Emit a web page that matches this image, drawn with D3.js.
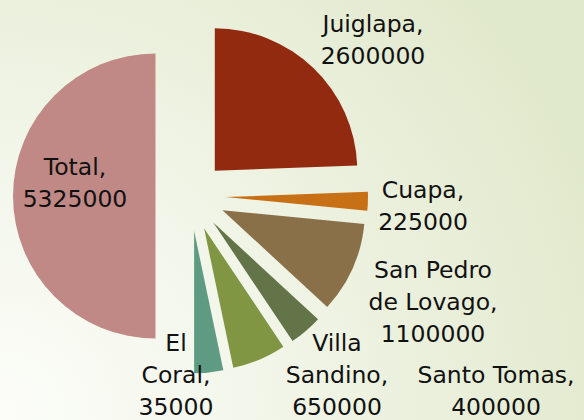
<!DOCTYPE html>
<html>
<head>
<meta charset="utf-8">
<script src="https://cdn.jsdelivr.net/npm/d3@7"></script>
<style>
html,body{margin:0;padding:0;overflow:hidden;}
svg{display:block;}
</style>
</head>
<body>
<svg id="chart" width="584" height="420"></svg>
<script>
// Data
const categories = ["Juiglapa", "Cuapa", "San Pedro de Lovago", "Santo Tomas", "Villa Sandino", "El Coral", "Total"];
const values = [2600000, 225000, 1100000, 400000, 650000, 350000, 5325000];
const valueLabels = ["2600000", "225000", "1100000", "400000", "650000", "35000", "5325000"];
const labelLines = [
  ["Juiglapa,", "2600000"],
  ["Cuapa,", "225000"],
  ["San Pedro", "de Lovago,", "1100000"],
  ["Santo Tomas,", "400000"],
  ["Villa", "Sandino,", "650000"],
  ["El", "Coral,", "35000"],
  ["Total,", "5325000"]
];
const colors = ["#922A10", "#C87016", "#8A7048", "#637548", "#819642", "#5E9B82", "#C08985"];

const W = 584, H = 420;
const cx = 190.5, cy = 196, R = 142.5, explode = 35;
// label anchor positions (center x, first baseline y)
const labelPos = [[373, 32], [423, 198], [433, 278], [496, 383], [337, 351], [176, 351], [75, 175]];

const svg = d3.select("#chart");
const defs = svg.append("defs");
const grad = defs.append("radialGradient").attr("id", "bg")
  .attr("gradientUnits", "userSpaceOnUse")
  .attr("cx", 0).attr("cy", 420).attr("r", 640);
grad.append("stop").attr("offset", "0%").attr("stop-color", "#FCFDF9");
grad.append("stop").attr("offset", "35%").attr("stop-color", "#F4F7EC");
grad.append("stop").attr("offset", "100%").attr("stop-color", "#E1E9CC");
svg.append("rect").attr("width", W).attr("height", H).attr("fill", "url(#bg)");

const pie = d3.pie().sort(null).value(d => d)(values);
const arc = d3.arc().innerRadius(0).outerRadius(R);

const g = svg.append("g").attr("transform", `translate(${cx},${cy})`);
g.selectAll("path").data(pie).join("path")
  .attr("d", arc)
  .attr("fill", (d, i) => colors[i])
  .attr("transform", d => {
    const a = (d.startAngle + d.endAngle) / 2;
    return `translate(${explode * Math.sin(a)},${-explode * Math.cos(a)})`;
  });

const lg = svg.append("g")
  .attr("font-family", "'DejaVu Sans', sans-serif")
  .attr("font-size", 23.5)
  .attr("fill", "#111")
  .attr("text-anchor", "middle");
labelLines.forEach((lines, i) => {
  const t = lg.append("text").attr("x", labelPos[i][0]).attr("y", labelPos[i][1]);
  lines.forEach((ln, j) => {
    t.append("tspan").attr("x", labelPos[i][0]).attr("dy", j === 0 ? 0 : 32).text(ln);
  });
});
</script>
</body>
</html>
